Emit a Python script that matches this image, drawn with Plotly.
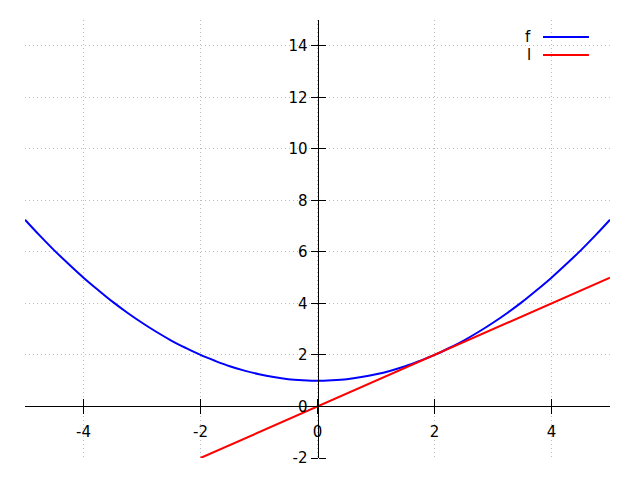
import plotly.graph_objects as go

# f series
f_x = [-5, -4.75, -4.5, -4.25, -4, -3.75, -3.5, -3.25, -3, -2.75, -2.5, -2.25, -2, -1.75, -1.5, -1.25, -1, -0.75, -0.5, -0.25,
       0, 0.25, 0.5, 0.75, 1, 1.25, 1.5, 1.75, 2, 2.25, 2.5, 2.75, 3, 3.25, 3.5, 3.75, 4, 4.25, 4.5, 4.75, 5]
f_y = [7.25, 6.64, 6.06, 5.52, 5.0, 4.52, 4.06, 3.64, 3.25, 2.89, 2.56, 2.27, 2.0, 1.77, 1.56, 1.39, 1.25, 1.14, 1.06, 1.02,
       1.0, 1.02, 1.06, 1.14, 1.25, 1.39, 1.56, 1.77, 2.0, 2.27, 2.56, 2.89, 3.25, 3.64, 4.06, 4.52, 5.0, 5.52, 6.06, 6.64, 7.25]
# l series
l_x = [-2, 5]
l_y = [-2, 5]

x_ticks = [-4, -2, 0, 2, 4]
x_tick_labels = ["-4", "-2", "0", "2", "4"]
y_ticks = [-2, 0, 2, 4, 6, 8, 10, 12, 14]
y_tick_labels = ["-2", "0", "2", "4", "6", "8", "10", "12", "14"]
x_range = [-5, 5]
y_range = [-2, 15]

FONT = "DejaVu Sans"
FS = 15
GRID = "#bdbdbd"

fig = go.Figure()
fig.add_trace(go.Scatter(x=f_x, y=f_y, mode="lines", name="f", line_shape="spline",
                         line=dict(color="#0000ff", width=2), xaxis="x", yaxis="y"))
fig.add_trace(go.Scatter(x=l_x, y=l_y, mode="lines", name="l",
                         line=dict(color="#ff0000", width=2), xaxis="x2", yaxis="y2"))

xpos = (0 - y_range[0]) / (y_range[1] - y_range[0])
ypos = (0 - x_range[0]) / (x_range[1] - x_range[0])

common_x = dict(range=x_range, tickvals=x_ticks, ticktext=x_tick_labels, zeroline=False, automargin=False,
                tickcolor="black", ticklen=7, tickwidth=1, anchor="free", position=xpos, ticks="outside")
common_y = dict(range=y_range, tickvals=y_ticks, ticktext=y_tick_labels, zeroline=False, automargin=False,
                tickcolor="black", ticklen=7, tickwidth=1, anchor="free", position=ypos, ticks="outside")

fig.update_layout(
    width=640, height=480,
    margin=dict(l=25, r=30, t=20, b=22),
    paper_bgcolor="white", plot_bgcolor="white",
    showlegend=False,
    font=dict(family=FONT, size=FS, color="black"),
    xaxis=dict(**common_x, side="bottom", showline=True, linecolor="black", linewidth=1,
               showgrid=True, gridcolor=GRID, griddash="1px,3px", gridwidth=1,
               tickfont=dict(family=FONT, size=FS, color="black"), ticklabelstandoff=5),
    xaxis2=dict(**common_x, side="top", overlaying="x", matches="x", showline=False,
                showgrid=False, showticklabels=False),
    yaxis=dict(**common_y, side="left", showline=True, linecolor="black", linewidth=1,
               showgrid=True, gridcolor=GRID, griddash="1px,3px", gridwidth=1,
               tickfont=dict(family=FONT, size=FS, color="black")),
    yaxis2=dict(**common_y, side="right", overlaying="y", matches="y", showline=False,
                showgrid=False, showticklabels=False),
)

# legend (samples to the right of the labels)
legend_items = [("f", "#0000ff", 0.961), ("l", "#ff0000", 0.920)]
for name, color, yy in legend_items:
    fig.add_shape(type="line", xref="paper", yref="paper", x0=0.8855, x1=0.964, y0=yy, y1=yy,
                  line=dict(color=color, width=2))
    fig.add_annotation(text=name, xref="paper", yref="paper", x=0.868, y=yy,
                       xanchor="right", yanchor="middle", showarrow=False,
                       font=dict(family=FONT, size=FS, color="black"))

fig.write_html("out.html", config={"displayModeBar": False},
               post_script="document.body.style.margin='0';document.body.style.overflow='hidden';")
